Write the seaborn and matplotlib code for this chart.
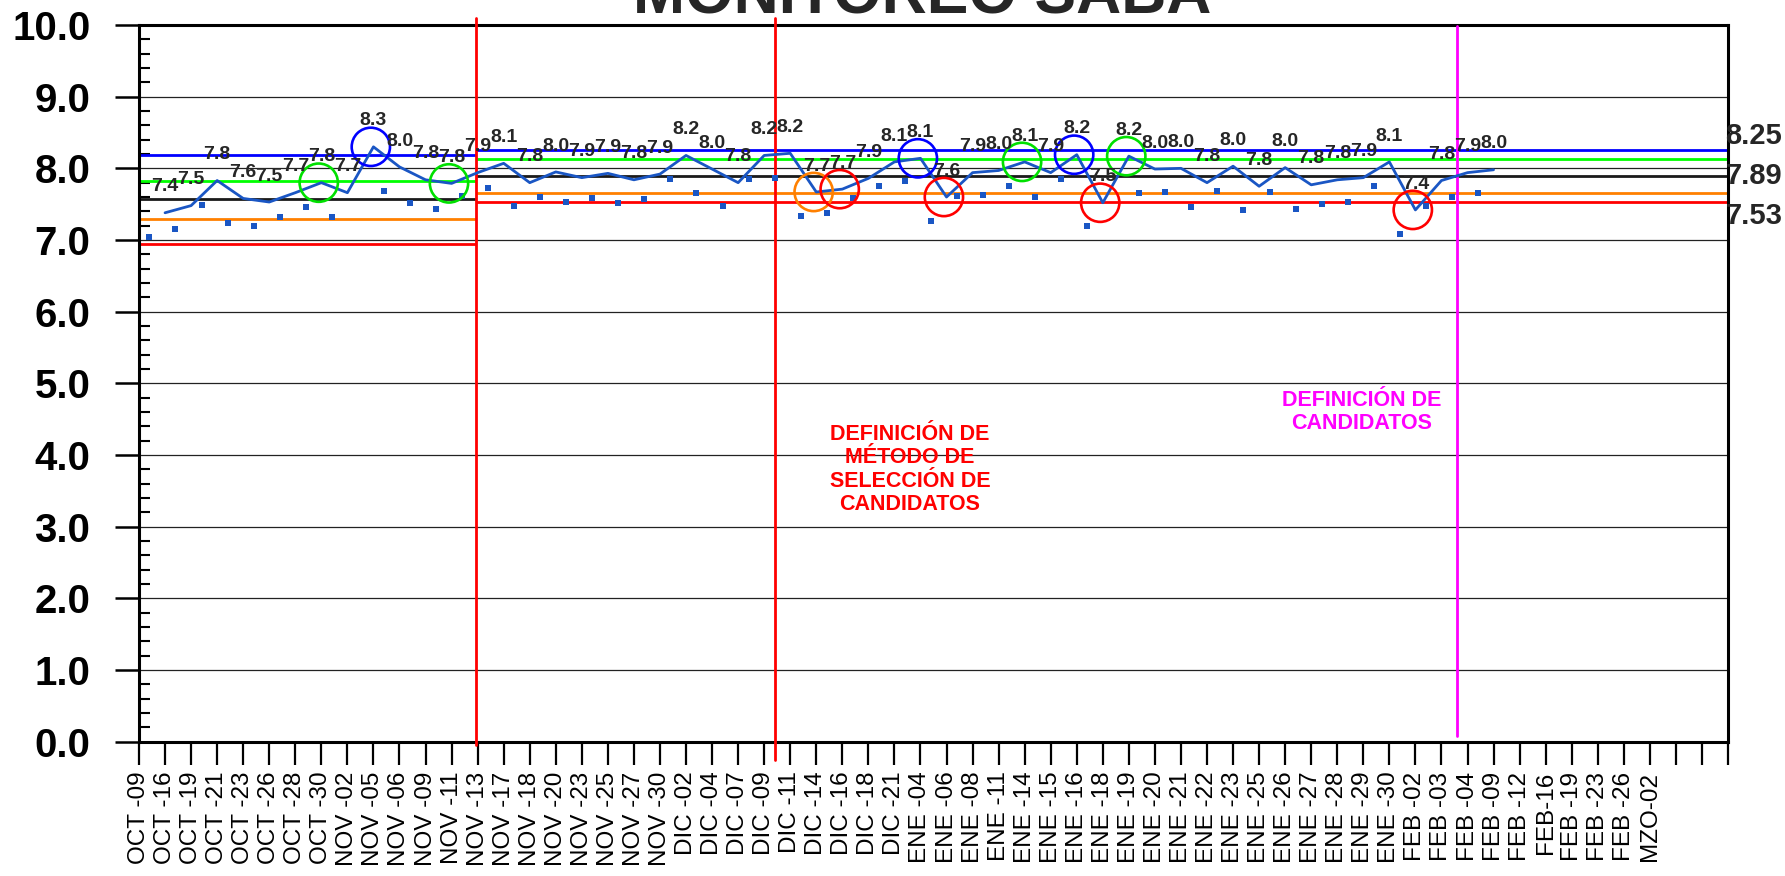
import matplotlib
matplotlib.use("Agg")
import matplotlib.pyplot as plt
import matplotlib.transforms as mtransforms
from matplotlib.lines import Line2D
from matplotlib.ticker import MultipleLocator
import numpy as np
import pandas as pd
import seaborn as sns

sns.set_theme(style="ticks")
plt.rcParams["font.family"] = ["Liberation Sans", "DejaVu Sans"]

# ── datos ────────────────────────────────────────────────────────────────────
FECHAS = [
    "OCT -09", "OCT -16", "OCT -19", "OCT -21", "OCT -23", "OCT -26", "OCT -28", "OCT -30",
    "NOV -02", "NOV -05", "NOV -06", "NOV -09", "NOV -11", "NOV -13", "NOV -17", "NOV -18",
    "NOV -20", "NOV -23", "NOV -25", "NOV -27", "NOV -30",
    "DIC -02", "DIC -04", "DIC -07", "DIC -09", "DIC -11", "DIC -14", "DIC -16", "DIC -18", "DIC -21",
    "ENE -04", "ENE -06", "ENE -08", "ENE -11", "ENE -14", "ENE -15", "ENE -16", "ENE -18",
    "ENE -19", "ENE -20", "ENE -21", "ENE -22", "ENE -23", "ENE -25", "ENE -26", "ENE -27",
    "ENE -28", "ENE -29", "ENE -30",
    "FEB -02", "FEB -03", "FEB -04", "FEB -09", "FEB -12", "FEB-16", "FEB -19", "FEB -23", "FEB -26",
    "MZO-02", "", "", "",
]

# promedio (línea) - desde la 2a fecha
PROMEDIO = [
    7.38, 7.48, 7.83, 7.58, 7.53, 7.66, 7.80, 7.66, 8.30, 8.02,
    7.84, 7.79, 7.94, 8.07, 7.80, 7.95, 7.87, 7.93, 7.84, 7.92,
    8.18, 7.99, 7.80, 8.18, 8.21, 7.67, 7.71, 7.86, 8.09, 8.14,
    7.60, 7.94, 7.97, 8.09, 7.94, 8.19, 7.52, 8.17, 7.99, 8.00,
    7.80, 8.03, 7.75, 8.01, 7.77, 7.84, 7.87, 8.09, 7.42, 7.83,
    7.94, 7.98,
]

# puntos diarios (marcadores)
DIARIO = [
    7.04, 7.15, 7.49, 7.24, 7.19, 7.32, 7.46, 7.32, np.nan, 7.68,
    7.51, 7.43, 7.61, 7.73, 7.47, 7.60, 7.53, 7.59, 7.51, 7.57,
    7.85, 7.65, 7.47, 7.85, 7.87, 7.33, 7.37, 7.59, 7.75, 7.82,
    7.27, 7.61, 7.63, 7.75, 7.60, 7.85, 7.19, np.nan, 7.66, 7.67,
    7.46, 7.68, 7.42, 7.67, 7.43, 7.50, 7.53, 7.75, 7.08, 7.47,
    7.60, 7.65,
]

# límites de control por tramo
TRAMOS = [0, 12.93, 61]
LSC = [8.19, 8.25]
LSA = [7.83, 8.13]
MEDIA = [7.57, 7.89]
LIA = [7.30, 7.65]
LIC = [6.95, 7.53]

# eventos (líneas verticales)
EVENTOS = [12.93, 24.42, 50.6]
EVENTOS_COLOR = ["#FF0000", "#FF0000", "#FF00FF"]

# puntos señalados con círculo (índice en PROMEDIO, 1 = OCT -16)
CIRCULOS = [7, 9, 12, 26, 27, 30, 31, 34, 36, 37, 38, 49]
CIRCULOS_COLOR = ["#00E000", "#0000FF", "#00E000", "#FF8000", "#FF0000", "#0000FF",
                  "#FF0000", "#00E000", "#0000FF", "#FF0000", "#00E000", "#FF0000"]

LINEA_COLOR = "#1A56C4"
W, H = 1785, 876

fig = plt.figure(figsize=(W / 100, H / 100), dpi=100)
ax = fig.add_axes([139 / W, 1 - 741.7 / H, (1728 - 139) / W, (741.7 - 25) / H])

df_prom = pd.DataFrame({"pos": np.arange(1, len(PROMEDIO) + 1), "valor": PROMEDIO})
df_dia = pd.DataFrame({"pos": np.arange(len(DIARIO)) + 0.4, "valor": DIARIO})

# límites
for i in range(len(TRAMOS) - 1):
    x0, x1 = TRAMOS[i], TRAMOS[i + 1]
    ax.hlines(LSC[i], x0, x1, color="#0000FF", lw=2.0, zorder=2)
    ax.hlines(LSA[i], x0, x1, color="#00FF00", lw=2.0, zorder=2)
    ax.hlines(MEDIA[i], x0, x1, color="#1a1a1a", lw=2.0, zorder=2)
    ax.hlines(LIA[i], x0, x1, color="#FF8000", lw=2.0, zorder=2)
    ax.hlines(LIC[i], x0, x1, color="#FF0000", lw=2.0, zorder=2)

sns.lineplot(data=df_prom, x="pos", y="valor", color=LINEA_COLOR, lw=2.0, ax=ax, zorder=4)
sns.scatterplot(data=df_dia, x="pos", y="valor", color=LINEA_COLOR, marker="s", s=24,
                linewidth=0, ax=ax, zorder=4)

# etiquetas de valor
for k, v in zip(df_prom["pos"], df_prom["valor"]):
    ax.annotate(f"{v:.1f}", (k, v), xytext=(0, 12.5), textcoords="offset points",
                ha="center", va="bottom", fontsize=14, fontweight="bold", zorder=6)

# círculos
for idx, col in zip(CIRCULOS, CIRCULOS_COLOR):
    ax.scatter([idx - 0.1], [PROMEDIO[idx - 1]], s=760, facecolors="none",
               edgecolors=col, linewidths=1.9, zorder=5)

# líneas verticales de eventos
trans_v = mtransforms.blended_transform_factory(ax.transData, ax.transAxes)
extremos = [(-0.004, 1.01), (-0.025, 1.01), (0.008, 0.998)]
for x, col, (y0, y1) in zip(EVENTOS, EVENTOS_COLOR, extremos):
    ax.add_line(Line2D([x, x], [y0, y1], transform=trans_v, color=col, lw=2.0,
                       clip_on=False, zorder=3))

ax.text(29.6, 3.8, "DEFINICIÓN DE\nMÉTODO DE\nSELECCIÓN DE\nCANDIDATOS", color="#FF0000",
        ha="center", va="center", fontsize=15.5, fontweight="bold", linespacing=1.15)
ax.text(46.95, 4.6, "DEFINICIÓN DE\nCANDIDATOS", color="#FF00FF",
        ha="center", va="center", fontsize=15.5, fontweight="bold", linespacing=1.15)

# valores de límites a la derecha
trans_r = mtransforms.blended_transform_factory(fig.transFigure, ax.transData)
for val, va in zip([LSC[-1], MEDIA[-1], LIC[-1]], ["bottom", "center", "top"]):
    ax.text(0.9985, val, f"{val:.2f}", transform=trans_r, ha="right", va=va,
            fontsize=21, fontweight="bold", clip_on=False)

# ejes
ax.set_xlim(0, 61)
ax.set_ylim(0, 10)
ax.set_xlabel("")
ax.set_ylabel("")
ax.set_xticks(np.arange(len(FECHAS)))
ax.set_xticklabels(FECHAS, rotation=90, fontsize=17.5)
ax.yaxis.set_major_locator(MultipleLocator(1))
ax.yaxis.set_minor_locator(MultipleLocator(0.2))
ax.set_yticks(np.arange(0, 11), [f"{v:.1f}" for v in range(0, 11)],
              fontsize=29, fontweight="bold")
ax.tick_params(axis="y", which="major", direction="out", length=17, width=1.8, pad=18,
               color="black", labelcolor="black")
ax.tick_params(axis="y", which="minor", direction="in", length=8, width=1.5, color="black")
ax.tick_params(axis="x", which="major", direction="out", length=16.5, width=1.6, pad=5,
               color="black", labelcolor="black")
ax.yaxis.grid(True, which="major", color="#222222", lw=0.9)
ax.set_axisbelow(True)
for s in ax.spines.values():
    s.set_visible(True)
    s.set_color("black")
    s.set_linewidth(2.2)

fig.text(922 / W, 1 - 13 / H, "MONITOREO SABA", ha="center", va="baseline",
         fontsize=45, fontweight="bold")

fig.savefig("out.png", dpi=100)
